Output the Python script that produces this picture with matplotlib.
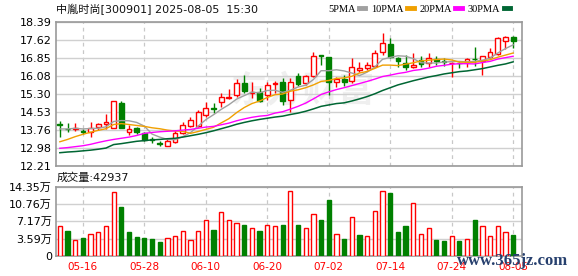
import matplotlib
matplotlib.use("Agg")
import matplotlib.pyplot as plt
from matplotlib.lines import Line2D
import numpy as np

plt.rcParams['font.family'] = ['DejaVu Sans', 'Noto Sans CJK SC']

# trading days shown
dates = ['05-13', '05-14', '05-15', '05-16', '05-19', '05-20', '05-21', '05-22', '05-23', '05-26',
         '05-27', '05-28', '05-29', '05-30', '06-03', '06-04', '06-05', '06-06', '06-09', '06-10',
         '06-11', '06-12', '06-13', '06-16', '06-17', '06-18', '06-19', '06-20', '06-23', '06-24',
         '06-25', '06-26', '06-27', '06-30', '07-01', '07-02', '07-03', '07-04', '07-07', '07-08',
         '07-09', '07-10', '07-11', '07-14', '07-15', '07-16', '07-17', '07-18', '07-21', '07-22',
         '07-23', '07-24', '07-25', '07-28', '07-29', '07-30', '07-31', '08-01', '08-04', '08-05']

opens = [14.02, 13.80, 13.80, 13.72, 13.68, 13.87, 14.03, 13.84, 14.90, 13.68,
         13.85, 13.61, 13.36, 13.20, 13.07, 13.23, 13.64, 13.94, 13.94, 14.40,
         14.68, 14.97, 15.14, 15.26, 15.76, 15.35, 15.37, 15.26, 15.74, 15.83,
         15.04, 16.09, 15.76, 16.09, 16.96, 16.87, 15.80, 15.94, 15.86, 16.33,
         16.43, 16.50, 17.09, 17.45, 16.83, 16.62, 16.47, 16.76, 16.62, 16.79,
         16.73, 16.62, 16.63, 16.67, 16.81, 16.73, 16.87, 17.00, 17.57, 17.73]
highs = [14.14, 14.04, 14.04, 13.79, 14.11, 14.07, 14.44, 15.01, 14.99, 13.97,
         13.90, 13.65, 13.44, 13.28, 13.38, 13.76, 14.11, 14.33, 14.61, 14.97,
         14.90, 15.33, 15.50, 15.93, 16.12, 15.83, 15.54, 15.80, 15.87, 15.97,
         15.97, 16.19, 16.12, 17.12, 16.97, 16.90, 16.04, 16.12, 16.83, 16.69,
         16.67, 17.19, 17.90, 17.69, 16.87, 16.97, 17.05, 16.93, 17.05, 16.93,
         16.83, 16.69, 16.69, 16.83, 17.33, 16.93, 17.26, 17.76, 17.80, 17.80]
lows = [13.47, 13.68, 13.72, 13.57, 13.47, 13.76, 13.79, 13.84, 13.83, 13.54,
        13.58, 13.29, 13.18, 13.07, 13.07, 13.18, 13.57, 13.87, 13.90, 14.33,
        14.47, 14.76, 15.07, 15.18, 15.33, 15.12, 14.97, 15.04, 15.33, 14.83,
        14.54, 15.64, 15.70, 16.04, 16.54, 15.26, 15.61, 15.64, 15.76, 16.26,
        16.33, 16.47, 16.97, 16.83, 16.47, 16.33, 16.40, 16.47, 16.47, 16.54,
        16.50, 16.04, 16.40, 16.47, 16.50, 16.12, 16.83, 16.97, 17.22, 17.26]
closes = [13.98, 13.78, 13.85, 13.66, 13.83, 14.01, 14.11, 15.01, 13.83, 13.79,
          13.66, 13.33, 13.31, 13.17, 13.28, 13.61, 13.98, 14.18, 14.54, 14.69,
          14.64, 15.16, 15.17, 15.76, 15.43, 15.38, 15.01, 15.69, 15.77, 15.00,
          15.83, 15.73, 16.09, 16.93, 16.93, 15.83, 15.94, 15.83, 16.47, 16.40,
          16.54, 17.05, 17.48, 16.90, 16.73, 16.45, 16.54, 16.59, 16.86, 16.70,
          16.66, 16.65, 16.61, 16.79, 16.79, 16.93, 17.09, 17.69, 17.76, 17.59]

ma5 = [13.80, 13.80, 13.83, 13.80, 13.82, 13.83, 13.89, 14.12, 14.16, 14.15,
       14.08, 13.92, 13.58, 13.45, 13.35, 13.34, 13.47, 13.64, 13.92, 14.20,
       14.41, 14.64, 14.84, 15.08, 15.23, 15.38, 15.35, 15.45, 15.46, 15.37,
       15.46, 15.60, 15.68, 15.92, 16.30, 16.30, 16.34, 16.29, 16.20, 16.09,
       16.24, 16.46, 16.79, 16.87, 16.94, 16.92, 16.82, 16.64, 16.63, 16.63,
       16.67, 16.69, 16.70, 16.68, 16.70, 16.75, 16.84, 17.06, 17.25, 17.41]
ma10 = [13.25, 13.35, 13.47, 13.57, 13.66, 13.74, 13.81, 13.99, 14.03, 13.99,
        13.95, 13.91, 13.85, 13.81, 13.75, 13.71, 13.70, 13.61, 13.69, 13.78,
        13.87, 14.06, 14.24, 14.50, 14.72, 14.89, 15.00, 15.15, 15.27, 15.30,
        15.42, 15.48, 15.57, 15.69, 15.84, 15.88, 15.97, 15.99, 16.06, 16.20,
        16.27, 16.40, 16.54, 16.54, 16.52, 16.58, 16.64, 16.72, 16.75, 16.78,
        16.80, 16.76, 16.67, 16.66, 16.66, 16.71, 16.77, 16.88, 16.97, 17.06]
ma20 = [12.97, 13.00, 13.04, 13.08, 13.14, 13.22, 13.29, 13.35, 13.40, 13.45,
        13.52, 13.61, 13.65, 13.68, 13.70, 13.72, 13.75, 13.78, 13.83, 13.88,
        13.91, 13.98, 14.05, 14.15, 14.23, 14.30, 14.35, 14.38, 14.48, 14.54,
        14.65, 14.77, 14.91, 15.09, 15.28, 15.39, 15.49, 15.57, 15.66, 15.75,
        15.84, 15.94, 16.05, 16.11, 16.18, 16.23, 16.31, 16.35, 16.41, 16.49,
        16.53, 16.58, 16.60, 16.60, 16.59, 16.65, 16.70, 16.80, 16.86, 16.92]
ma30 = [12.78, 12.81, 12.83, 12.86, 12.89, 12.93, 12.98, 13.13, 13.17, 13.22,
        13.27, 13.30, 13.33, 13.35, 13.38, 13.40, 13.45, 13.51, 13.57, 13.64,
        13.72, 13.81, 13.90, 14.00, 14.08, 14.15, 14.21, 14.26, 14.31, 14.35,
        14.42, 14.48, 14.56, 14.66, 14.77, 14.83, 14.89, 14.92, 15.00, 15.09,
        15.19, 15.31, 15.45, 15.57, 15.69, 15.78, 15.87, 15.95, 16.03, 16.09,
        16.16, 16.21, 16.26, 16.29, 16.34, 16.39, 16.46, 16.53, 16.59, 16.68]

volumes = [62900, 50600, 33500, 36300, 45800, 49900, 62200, 132000, 101900, 48600,
           38300, 36300, 34200, 28000, 37600, 41700, 52000, 33500, 52000, 74600,
           52700, 91000, 74600, 68400, 65000, 58100, 50600, 64300, 62200, 65000,
           134000, 65000, 58100, 86900, 74600, 116300, 45800, 34200, 80700, 42400,
           41700, 93000, 134000, 130600, 48600, 62900, 109400, 45800, 58100, 32100,
           30100, 41700, 30100, 35600, 75200, 62200, 41700, 62200, 48600, 42937]
# 1 = up day (red bar), 0 = down day (green bar)
vol_up = [1, 0, 1, 0, 1, 1, 1, 1, 0, 0,
          0, 0, 0, 0, 1, 1, 1, 1, 1, 1,
          0, 1, 1, 1, 0, 1, 0, 1, 1, 0,
          1, 0, 1, 1, 0, 0, 1, 0, 1, 0,
          1, 1, 1, 0, 0, 0, 1, 1, 1, 0,
          0, 1, 0, 1, 0, 1, 1, 1, 1, 0]

price_ticks = [12.21, 12.98, 13.76, 14.53, 15.30, 16.08, 16.85, 17.62, 18.39]
vol_ticks = [0, 35900, 71700, 107600, 143500]
vol_labels = ['0', '3.59万', '7.17万', '10.76万', '14.35万']
date_ticks = ['05-16', '05-28', '06-10', '06-20', '07-02', '07-14', '07-24', '08-05']

RED = '#ff0000'
GREEN = '#008000'
FRAME = '#999999'
GRID = '#d0d0d0'

W, H = 578, 276
fig = plt.figure(figsize=(W / 100, H / 100), dpi=100)
ax = fig.add_axes([56 / W, 1 - 166 / H, 466 / W, 144 / H])
axv = fig.add_axes([56 / W, 1 - 256 / H, 466 / W, 69.5 / H])

x = np.arange(len(dates))
o = np.array(opens)
c = np.array(closes)
up = c >= o
cols = np.where(up, RED, GREEN)

# watermark behind the candles
ax.text(0.53, 0.52, '东方财富', transform=ax.transAxes, fontsize=26, fontweight='bold',
        color='#efefef', ha='center', va='center', zorder=0,
        family=['Noto Sans CJK SC', 'DejaVu Sans'])

ax.vlines(x, lows, highs, colors=cols, lw=1, zorder=3)
ax.bar(x, np.maximum(np.abs(c - o), 0.012), bottom=np.minimum(o, c), width=0.62,
       color=np.where(up, 'white', GREEN), edgecolor=cols, lw=1, zorder=4)

ax.plot(x, ma5, color='#a0a0a0', lw=1, zorder=5)
ax.plot(x, ma10, color='#f0a000', lw=1, zorder=5)
ax.plot(x, ma20, color='#ff00ff', lw=1, zorder=5)
ax.plot(x, ma30, color='#006633', lw=1.1, zorder=5)

xt = [dates.index(d) for d in date_ticks]
for a in (ax, axv):
    a.set_xlim(-0.5, 60.15)
    a.set_xticks(xt)
    for s in a.spines.values():
        s.set_color(FRAME)
        s.set_linewidth(1.2)
    a.tick_params(length=0, pad=3, labelsize=8)
    a.grid(axis='y', color=GRID, lw=1, zorder=1)
    a.grid(axis='x', color='#c8c8c8', lw=0.9, ls=(0, (3, 3)), zorder=1)
    a.set_axisbelow(True)

ax.set_ylim(price_ticks[0], price_ticks[-1])
ax.set_yticks(price_ticks)
ax.set_yticklabels(['%.2f' % v for v in price_ticks])
ax.set_xticklabels([])

vcol = [RED if u else GREEN for u in vol_up]
axv.bar(x, volumes, width=0.55, color=['white' if u else GREEN for u in vol_up],
        edgecolor=vcol, lw=1, zorder=3)
axv.set_ylim(0, vol_ticks[-1])
axv.set_yticks(vol_ticks)
axv.set_yticklabels(vol_labels)
axv.set_xticklabels(date_ticks, color=RED, fontsize=7.5)
axv.tick_params(axis='x', pad=4)

fig.text(56 / W, 1 - 9 / H, '中胤时尚[300901] 2025-08-05  15:30', fontsize=8,
         va='center', ha='left', color='#111111')
fig.text(57 / W, 1 - 178 / H, '成交量:42937', fontsize=8, va='center', ha='left',
         color='#111111')

handles = [Line2D([], [], color=cc, lw=3.5) for cc in ['#a0a0a0', '#f0a000', '#ff00ff', '#006633']]
fig.legend(handles, ['5PMA', '10PMA', '20PMA', '30PMA'], loc='center right',
           bbox_to_anchor=(515 / W, 1 - 9 / H), ncol=4, markerfirst=False, frameon=False,
           handlelength=0.6, handletextpad=0.35, columnspacing=0.55, borderpad=0,
           prop={'family': 'Liberation Serif', 'size': 7.5})

fig.text(513 / W, 1 - 261 / H, 'www.365jz.com', fontsize=12, fontweight='bold',
         family='Liberation Serif', color='#27406e', ha='center', va='center')

fig.savefig('out.png', dpi=100)
